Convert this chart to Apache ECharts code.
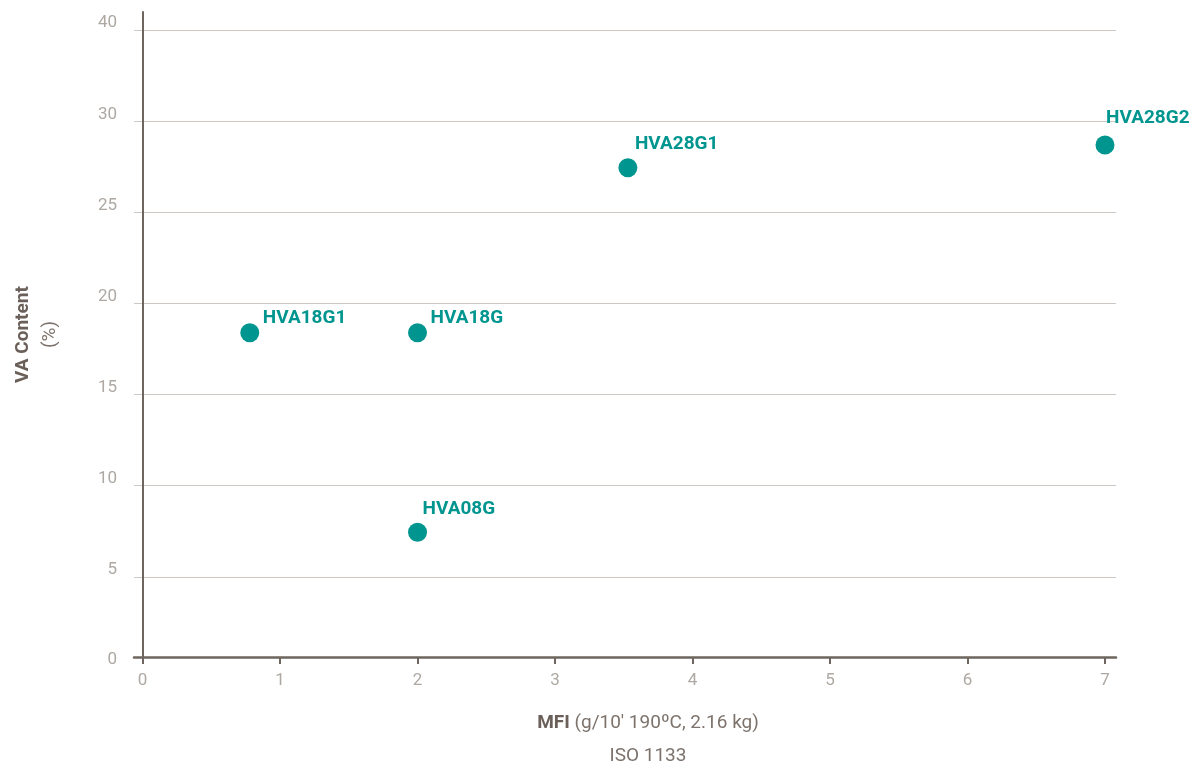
<!DOCTYPE html>
<html>
<head>
<meta charset="utf-8">
<script src="https://cdn.jsdelivr.net/npm/echarts@6/dist/echarts.min.js"></script>
<style>
html,body{margin:0;padding:0;background:#fff;}
#c{width:1198px;height:767px;}
</style>
</head>
<body>
<div id="c"></div>
<script>
// ---- data ----
var gradeNames = ['HVA18G1', 'HVA18G', 'HVA08G', 'HVA28G1', 'HVA28G2'];
var mfiValues  = [0.78, 2.0, 2.0, 3.53, 7.0];
var vaValues   = [18.4, 18.4, 7.45, 27.45, 28.7];
var xTickValues = [0, 1, 2, 3, 4, 5, 6, 7];
var yTickLabels = ['0', '5', '10', '15', '20', '25', '30', '40'];

// ---- styling (label placement relative to point centre) ----
var labelOffsets = [[13, -14], [13, -14], [5, -23], [7, -24], [1, -27]];
var SYM = 19;
var TEAL = '#00968f';
var AXIS = '#6e655f';
var TICKC = '#aea8a3';

var chart = echarts.init(document.getElementById('c'), null, {renderer: 'canvas'});

var points = gradeNames.map(function (n, i) {
  return {
    name: n,
    value: [mfiValues[i], vaValues[i]],
    label: {
      position: [labelOffsets[i][0] + SYM / 2, labelOffsets[i][1] + SYM / 2],
      align: 'left',
      verticalAlign: 'middle'
    }
  };
});

chart.setOption({
  backgroundColor: '#ffffff',
  animation: false,
  grid: {left: 134, right: 82, top: 12, bottom: 110, containLabel: false, outerBoundsMode: 'none'},
  xAxis: {
    type: 'value',
    min: -0.062,
    max: 7.08,
    splitNumber: 7,
    axisLine: {show: true, onZero: true, lineStyle: {color: AXIS, width: 2.5}},
    axisTick: {show: true, length: 7, customValues: xTickValues, lineStyle: {color: AXIS, width: 2}},
    axisLabel: {
      customValues: xTickValues,
      margin: 15,
      color: TICKC,
      fontFamily: 'Roboto',
      fontSize: 17,
      formatter: function (v) { return Math.abs(v - Math.round(v)) < 1e-6 ? String(Math.round(v)) : ''; }
    },
    splitLine: {show: false},
    name: '{b|MFI}{r| (g/10\' 190ºC, 2.16 kg)}\n{r|ISO 1133}',
    nameLocation: 'middle',
    nameGap: 50,
    nameTextStyle: {
      padding: [0, 0, 0, 46],
      rich: {
        b: {fontFamily: 'Roboto', fontWeight: 'bold', fontSize: 19, color: '#6b6059', lineHeight: 33},
        r: {fontFamily: 'Roboto', fontSize: 19, color: '#7d736c', lineHeight: 33}
      }
    }
  },
  yAxis: {
    type: 'value',
    min: 0.6,
    max: 36,
    splitNumber: 7,
    axisLine: {show: true, onZero: true, lineStyle: {color: AXIS, width: 2}},
    axisTick: {show: false},
    axisLabel: {
      margin: 17,
      color: TICKC,
      fontFamily: 'Roboto',
      fontSize: 17,
      showMaxLabel: false,
      formatter: function (v, idx) {
        var t = yTickLabels[idx];
        if (t === undefined) return '';
        if (idx === 0) return '{z|' + t + '}';
        return '{u|' + t + '}';
      },
      rich: {
        z: {fontFamily: 'Roboto', fontSize: 17, color: TICKC, padding: [5, 0, 0, 0]},
        u: {fontFamily: 'Roboto', fontSize: 17, color: TICKC, verticalAlign: 'top', padding: [0, 0, 14, 0]}
      }
    },
    splitLine: {show: true, showMinLine: false, showMaxLine: false, lineStyle: {color: '#cdc8c3', width: 1}},
    name: '{b|VA Content}\n{r|(%)}',
    nameLocation: 'middle',
    nameRotate: 90,
    nameGap: 70,
    nameTextStyle: {
      rich: {
        b: {fontFamily: 'Roboto', fontWeight: 'bold', fontSize: 19, color: '#6b6059', lineHeight: 27},
        r: {fontFamily: 'Roboto', fontSize: 19, color: '#7d736c', lineHeight: 27}
      }
    }
  },
  series: [{
    type: 'scatter',
    symbol: 'circle',
    symbolSize: SYM,
    itemStyle: {color: TEAL, opacity: 1},
    label: {
      show: true,
      formatter: '{b}',
      color: TEAL,
      fontFamily: 'Roboto',
      fontWeight: 'bold',
      fontSize: 19
    },
    emphasis: {disabled: true},
    data: points
  }]
});
</script>
</body>
</html>
